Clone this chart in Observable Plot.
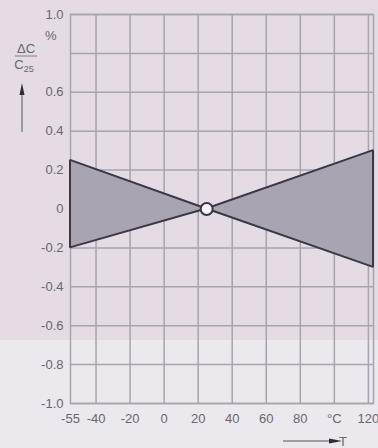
<!DOCTYPE html>
<html><head><meta charset="utf-8">
<script src="https://cdn.jsdelivr.net/npm/d3@7"></script>
<script src="https://cdn.jsdelivr.net/npm/@observablehq/plot@0.6"></script>
<style>
html,body{margin:0;padding:0;}
body{width:378px;height:448px;overflow:hidden;background:linear-gradient(to bottom,#e4dbe5 0px,#e4dbe5 340px,#ebe8ee 340px,#ebe8ee 448px);}
</style>
</head><body>
<div id="chart"></div>
<script>
// temperature (°C) and capacitance change limits (%)
const temps = [-55, 25, 123];
const upper = [0.25, 0, 0.3];
const lower = [-0.2, 0, -0.3];
const refPoint = [25, 0];
const xTicks = [-55, -40, -20, 0, 20, 40, 60, 80, 100, 120];
const xTickLabels = ["-55", "-40", "-20", "0", "20", "40", "60", "80", "°C", "120"];
const yGrid = [-1, -0.8, -0.6, -0.4, -0.2, 0, 0.2, 0.4, 0.6, 0.8, 1];
const yTicks = [-1, -0.8, -0.6, -0.4, -0.2, 0, 0.2, 0.4, 0.6, 1];
const yTickLabels = ["-1.0", "-0.8", "-0.6", "-0.4", "-0.2", "0", "0.2", "0.4", "0.6", "1.0"];

const band = temps.map((t, i) => ({t, hi: upper[i], lo: lower[i]}));
const textColor = "#6a666f";
const gridColor = "#a9a3af";
const dark = "#3a3844";

const plot = Plot.plot({
  width: 378, height: 448,
  marginTop: 14, marginBottom: 45, marginLeft: 70, marginRight: 5,
  style: {background: "transparent", fontFamily: "'Liberation Sans', Arial, sans-serif", fontSize: "13px", color: textColor},
  x: {domain: [-55, 123]},
  y: {domain: [-1, 1]},
  marks: [
    Plot.gridX(xTicks.slice(1), {stroke: gridColor, strokeOpacity: 1, strokeWidth: 1.5}),
    Plot.gridY(yGrid, {stroke: gridColor, strokeOpacity: 1, strokeWidth: 1.5}),
    Plot.frame({stroke: gridColor, strokeWidth: 1.5}),
    Plot.areaY(band, {x: "t", y1: "lo", y2: "hi", fill: "#a8a4b1", stroke: dark, strokeWidth: 2, strokeLinejoin: "miter"}),
    Plot.dot([refPoint], {x: d => d[0], y: d => d[1], r: 6, fill: "#f4f3f6", stroke: dark, strokeWidth: 2}),
    Plot.axisX(xTicks, {tickSize: 0, tickPadding: 10, tickFormat: d => xTickLabels[xTicks.indexOf(d)], fill: textColor, fontSize: 13, label: null}),
    Plot.axisY(yTicks, {tickSize: 0, tickPadding: 7, tickFormat: d => yTickLabels[yTicks.indexOf(d)], fill: textColor, fontSize: 13, label: null}),
    Plot.text(["%"], {x: -55, y: 0.89, dx: -14, fill: textColor, fontSize: 13, textAnchor: "end"})
  ]
});
document.getElementById("chart").appendChild(plot);

const svg = d3.select(plot);
const g = svg.append("g").attr("fill", textColor).attr("font-family", "'Liberation Sans', Arial, sans-serif").attr("font-size", 13);
// ΔC / C25 label
g.append("text").attr("x", 26).attr("y", 53).attr("text-anchor", "middle").text("ΔC");
g.append("line").attr("x1", 15).attr("x2", 37).attr("y1", 56).attr("y2", 56).attr("stroke", textColor).attr("stroke-width", 0.8);
const c = g.append("text").attr("x", 24).attr("y", 69).attr("text-anchor", "middle");
c.append("tspan").text("C");
c.append("tspan").attr("font-size", 9).attr("dy", 3).text("25");
// vertical arrow
g.append("line").attr("x1", 22).attr("x2", 22).attr("y1", 132).attr("y2", 92).attr("stroke", "#55525c").attr("stroke-width", 1);
g.append("path").attr("d", "M22,83 L19.5,95 L24.5,95 Z").attr("fill", "#2e2c34");
// horizontal arrow + T
g.append("line").attr("x1", 283).attr("x2", 330).attr("y1", 441).attr("y2", 441).attr("stroke", "#55525c").attr("stroke-width", 1);
g.append("path").attr("d", "M342,441 L329,438.5 L329,443.5 Z").attr("fill", "#2e2c34");
g.append("text").attr("x", 343).attr("y", 446).text("T");
</script>
</body></html>
